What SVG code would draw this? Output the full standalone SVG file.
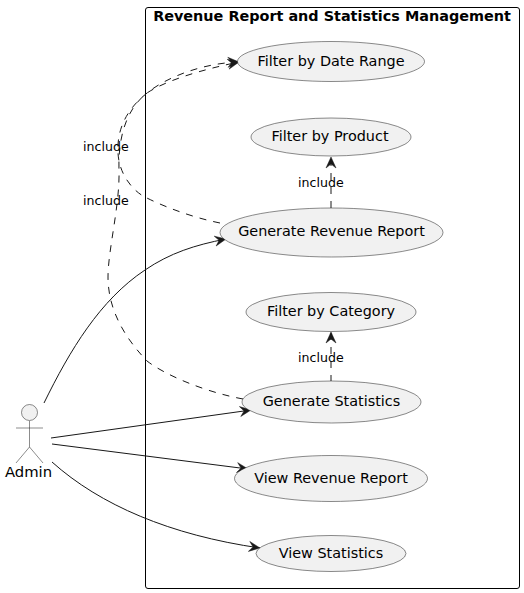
<svg xmlns="http://www.w3.org/2000/svg" width="524" height="593" viewBox="0 0 524 593">
<style>
text{font-family:"DejaVu Sans",sans-serif;font-size:14.4px;fill:#000}
.n{text-anchor:middle}
ellipse{fill:#f1f1f1;stroke:#181818;stroke-width:.5}
.c path{fill:none;stroke:#181818;stroke-width:1}
.c .d{stroke-dasharray:7,7}
.l{font-size:12.6px}
.h{fill:none;stroke:#181818;stroke-width:.5}
</style>
<defs>
<marker id="a" markerUnits="userSpaceOnUse" markerWidth="14" markerHeight="12" refX="11" refY="5" orient="auto" viewBox="0 0 14 10" overflow="visible"><path d="M0,0L11,5L0,10L4,5Z" fill="#181818" stroke="#181818" stroke-width=".5"/></marker>
</defs>
<rect width="524" height="593" fill="#fff"/>
<g id="boundary"><rect x="145.500" y="7.500" width="374" height="581" rx="2.500" fill="none" stroke="#000" stroke-width="1"/><text x="332" y="21" class="n" style="font-weight:700">Revenue Report and Statistics Management</text></g>
<g class="c" id="connectors">
<path class="d" d="M243,399C205,392 165,375 147,361C125,338 108,310 108,277C108,250 120,205 119,170C118,140 125,110 147,93C165,81 200,70 239,62" marker-end="url(#a)"/>
<path class="d" d="M220,223C190,217 160,205 143,196C130,188 119,172 118,153C117,135 122,113 147,93C168,76 205,63 239,62" marker-end="url(#a)"/>
<path class="d" d="M331,208L331,157" marker-end="url(#a)"/>
<path class="d" d="M331,382L331,332" marker-end="url(#a)"/>
<path d="M44,403C70,350 100,300 145,270C170,253 195,245 226,239" marker-end="url(#a)"/>
<path d="M51,438L251,410" marker-end="url(#a)"/>
<path d="M52,444L248,469" marker-end="url(#a)"/>
<path d="M52,462C100,505 170,535 260,548" marker-end="url(#a)"/>
</g>
<g id="labels"><text x="83" y="151" class="l">include</text><text x="83" y="205" class="l">include</text><text x="298" y="187" class="l">include</text><text x="298" y="362" class="l">include</text></g>
<g id="admin"><circle cx="29.500" cy="412.500" r="8" fill="#f1f1f1" stroke="#181818" stroke-width=".5"/><path class="h" d="M29.500,421V447M16,428H43M29.500,447L16,463M29.500,447L43,463"/><text x="28.500" y="477" class="n" style="font-size:14.8px">Admin</text></g>
<g id="date"><ellipse cx="331" cy="61.500" rx="93.500" ry="20"/><text x="331" y="66" class="n">Filter by Date Range</text></g>
<g id="product"><ellipse cx="331" cy="137" rx="80" ry="19"/><text x="330" y="141" class="n">Filter by Product</text></g>
<g id="genrev"><ellipse cx="331.500" cy="232.500" rx="111.500" ry="24.500"/><text x="331.500" y="236" class="n">Generate Revenue Report</text></g>
<g id="category"><ellipse cx="331" cy="312" rx="85" ry="19.500"/><text x="331" y="316" class="n">Filter by Category</text></g>
<g id="genstat"><ellipse cx="331.500" cy="402" rx="89.500" ry="21"/><text x="331.500" y="406" class="n">Generate Statistics</text></g>
<g id="viewrev"><ellipse cx="331" cy="478.500" rx="96.500" ry="23"/><text x="331" y="483" class="n">View Revenue Report</text></g>
<g id="viewstat"><ellipse cx="331" cy="553.500" rx="75" ry="18"/><text x="331" y="558" class="n">View Statistics</text></g>
</svg>
